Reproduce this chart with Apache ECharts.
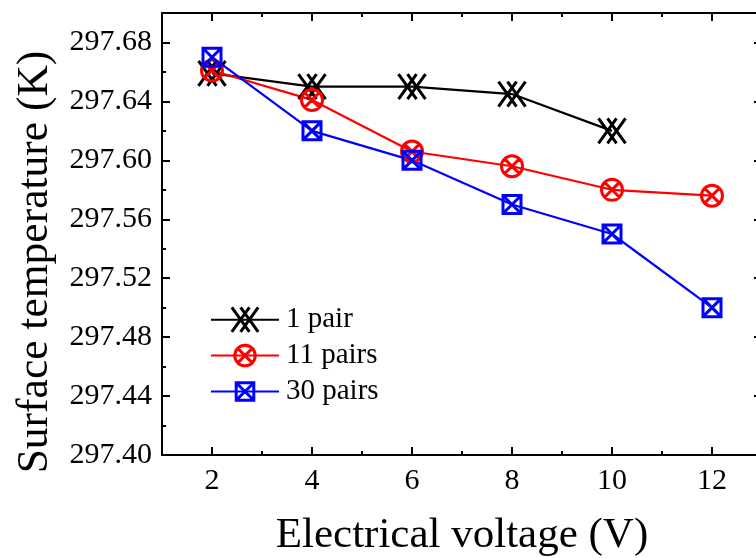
<!DOCTYPE html>
<html>
<head>
<meta charset="utf-8">
<script src="https://cdn.jsdelivr.net/npm/echarts@6/dist/echarts.min.js"></script>
<style>
  html, body { margin: 0; padding: 0; background: #ffffff; }
  #chart { width: 756px; height: 558px; }
</style>
</head>
<body>
<div id="chart"></div>
<script>
// Surface temperature vs. electrical voltage for three thermocouple-pair counts
const voltage1 = [2, 4, 6, 8, 10];
const voltage = [2, 4, 6, 8, 10, 12];
const temp1Pair = [297.659, 297.650, 297.650, 297.645, 297.620];
const temp11Pairs = [297.661, 297.641, 297.606, 297.596, 297.580, 297.576];
const temp30Pairs = [297.670, 297.620, 297.600, 297.570, 297.550, 297.500];
const seriesNames = ['1 pair', '11 pairs', '30 pairs'];

const xMajorTicks = [2, 4, 6, 8, 10, 12];
const xMinorTicks = [1, 3, 5, 7, 9, 11, 13];
const yMajorTicks = [297.40, 297.44, 297.48, 297.52, 297.56, 297.60, 297.64, 297.68];
const yMinorTicks = [297.42, 297.46, 297.50, 297.54, 297.58, 297.62, 297.66];

const xTitle = 'Electrical voltage (V)';
const yTitle = 'Surface temperature (K)';

const FONT = '"Liberation Serif", "Times New Roman", serif';

// Marker outlines, all drawn inside a common 27x27 box so they scale alike
const BOX = 'M0,0M27,27';
const symDoubleX = 'path://' + BOX + 'M0,1L18,26M9,1L27,26M27,1L9,26M18,1L0,26';
const symCircleX = 'path://' + BOX +
  'M3,13.5A10.5,10.5,0,1,1,24,13.5A10.5,10.5,0,1,1,3,13.5Z' +
  'M6.1,6.1L20.9,20.9M20.9,6.1L6.1,20.9' +
  'M4,8.5L8.5,4M18.5,4L23,8.5M23,18.5L18.5,23M8.5,23L4,18.5';
const symSquareX = 'path://' + BOX +
  'M4.5,4.5H22.5V22.5H4.5ZM4.5,4.5L22.5,22.5M22.5,4.5L4.5,22.5';

function pairs(xs, ys) { return ys.map((v, i) => [xs[i], v]); }

function xAxisDef(position, ticks, len, withLine, withLabels) {
  return {
    type: 'value', gridIndex: 0, position: position, min: 1, max: 13,
    axisLine: { show: withLine, onZero: false, lineStyle: { color: '#000', width: 2 } },
    axisTick: { show: true, inside: true, length: len, customValues: ticks, lineStyle: { color: '#000', width: 2 } },
    axisLabel: withLabels ? {
      show: true, customValues: ticks, margin: 11, color: '#000',
      fontFamily: FONT, fontSize: 30
    } : { show: false },
    splitLine: { show: false }
  };
}

function yAxisDef(position, ticks, len, withLine, withLabels) {
  return {
    type: 'value', gridIndex: 0, position: position, min: 297.40, max: 297.70,
    axisLine: { show: withLine, onZero: false, lineStyle: { color: '#000', width: 2 } },
    axisTick: { show: true, inside: true, length: len, customValues: ticks, lineStyle: { color: '#000', width: 2 } },
    axisLabel: withLabels ? {
      show: true, customValues: ticks, margin: 10, color: '#000',
      fontFamily: FONT, fontSize: 30,
      formatter: v => Number(v).toFixed(2)
    } : { show: false },
    splitLine: { show: false }
  };
}

const xMain = xAxisDef('bottom', xMajorTicks, 8, true, true);
Object.assign(xMain, {
  name: xTitle, nameLocation: 'middle', nameGap: 59,
  nameTextStyle: { fontFamily: FONT, fontSize: 43, color: '#000' }
});
const yMain = yAxisDef('left', yMajorTicks, 8, true, true);
Object.assign(yMain, {
  name: yTitle, nameLocation: 'middle', nameGap: 104,
  nameTextStyle: { fontFamily: FONT, fontSize: 43.5, color: '#000', padding: [0, 56, 0, 0] }
});

function lineSeries(name, xs, ys, color, symbol) {
  return {
    name: name, type: 'line', xAxisIndex: 0, yAxisIndex: 0,
    data: pairs(xs, ys),
    symbol: symbol, symbolSize: 27,
    lineStyle: { color: color, width: 2.2 },
    itemStyle: { color: 'rgba(0,0,0,0)', borderColor: color, borderWidth: 3 },
    emphasis: { disabled: true },
    animation: false, z: 3
  };
}

const chart = echarts.init(document.getElementById('chart'), null, { renderer: 'canvas' });
chart.setOption({
  backgroundColor: '#ffffff',
  animation: false,
  grid: { left: 162, right: -6, top: 13, bottom: 103, containLabel: false, outerBoundsMode: 'none' },
  legend: {
    orient: 'vertical', left: 205, top: 300,
    itemWidth: 68, itemHeight: 33, itemGap: 6.5,
    textStyle: { fontFamily: FONT, fontSize: 29, color: '#000', padding: [0, 0, 0, 2] },
    itemStyle: { borderWidth: 3 },
    data: seriesNames
  },
  xAxis: [
    xMain,
    xAxisDef('bottom', xMinorTicks, 4, false, false),
    xAxisDef('top', xMajorTicks, 8, true, false),
    xAxisDef('top', xMinorTicks, 4, false, false)
  ],
  yAxis: [
    yMain,
    yAxisDef('left', yMinorTicks, 4, false, false),
    yAxisDef('right', yMajorTicks, 8, true, false),
    yAxisDef('right', yMinorTicks, 4, false, false)
  ],
  series: [
    lineSeries(seriesNames[0], voltage1, temp1Pair, '#000000', symDoubleX),
    lineSeries(seriesNames[1], voltage, temp11Pairs, '#ff0000', symCircleX),
    lineSeries(seriesNames[2], voltage, temp30Pairs, '#0000ff', symSquareX)
  ]
});
</script>
</body>
</html>
